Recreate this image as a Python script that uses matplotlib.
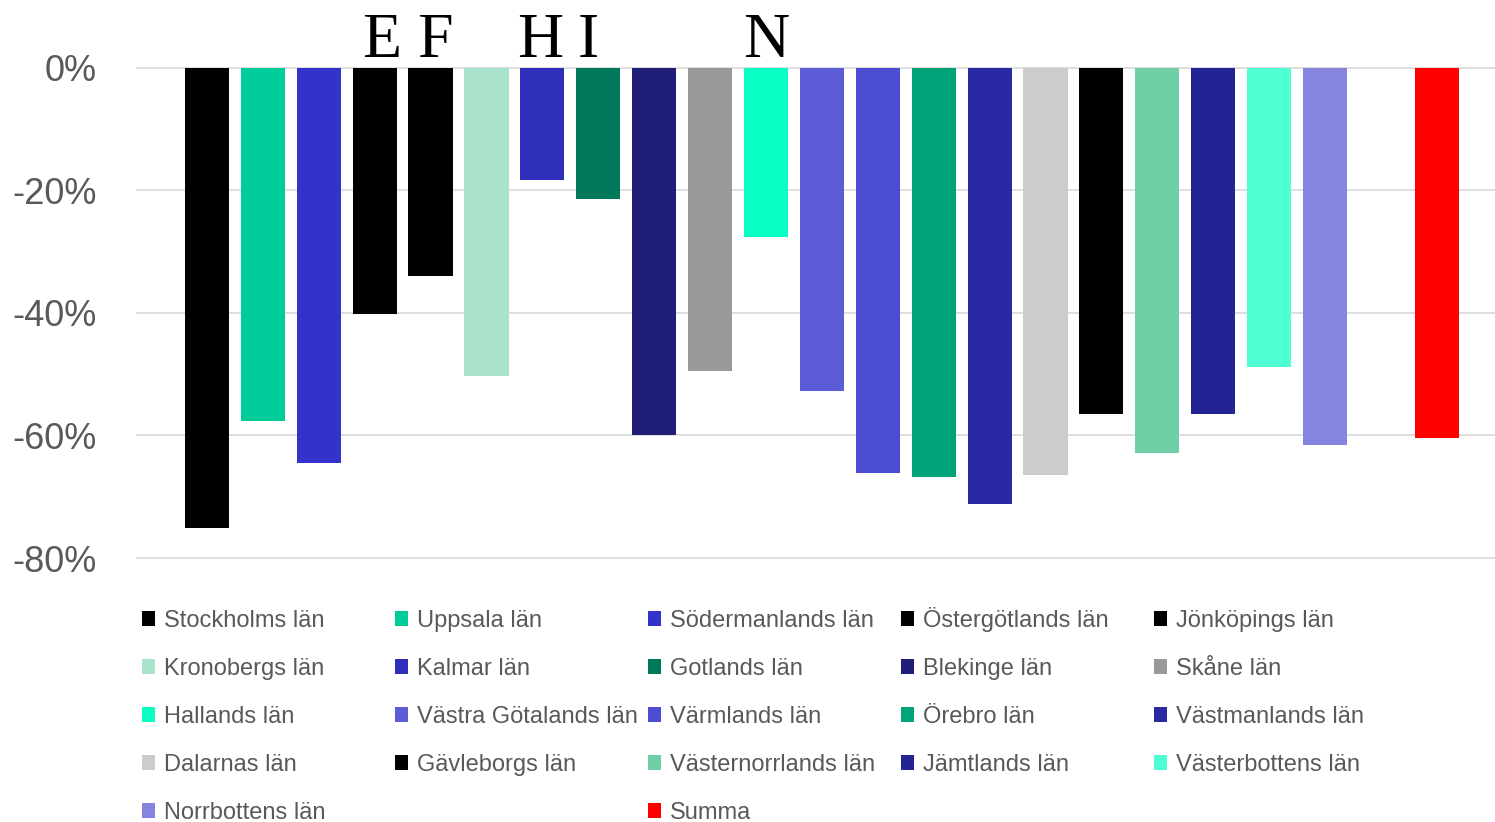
import numpy as np
import matplotlib.pyplot as plt
from matplotlib.patches import Patch
from matplotlib.transforms import ScaledTranslation

# county names, in bar order (one empty slot before "Summa")
counties = ["Stockholms län", "Uppsala län", "Södermanlands län", "Östergötlands län",
            "Jönköpings län", "Kronobergs län", "Kalmar län", "Gotlands län",
            "Blekinge län", "Skåne län", "Hallands län", "Västra Götalands län",
            "Värmlands län", "Örebro län", "Västmanlands län", "Dalarnas län",
            "Gävleborgs län", "Västernorrlands län", "Jämtlands län",
            "Västerbottens län", "Norrbottens län", "", "Summa"]
# change in percent
change = [-75.1, -57.6, -64.5, -40.2, -34.0, -50.3, -18.3, -21.4, -59.9, -49.5,
          -27.6, -52.7, -66.1, -66.8, -71.2, -66.4, -56.5, -62.9, -56.5, -48.8,
          -61.6, np.nan, -60.4]
colors = ["#000000", "#00CC99", "#3333CC", "#000000", "#000000", "#AAE3CB",
          "#2E2EB8", "#00785A", "#1F1F77", "#999999", "#0AFFC4", "#5C5CD6",
          "#4D4DD4", "#00A37A", "#2929A3", "#CCCCCC", "#000000", "#70CFA6",
          "#232394", "#4DFFD2", "#8585E0", "#FFFFFF", "#FF0000"]
yticks = [0, -20, -40, -60, -80]
# letters written above some of the bars: (bar index, small shift, letter)
marks = [(3, 0.12, "E"), (4, 0.07, "F"), (6, -0.03, "H"), (7, -0.17, "I"), (10, 0.0, "N")]

grey = "#595959"
fig = plt.figure(figsize=(14.95, 8.22), dpi=100)
ax = fig.add_axes([137 / 1495, 1 - 558 / 822, 1358 / 1495, 490 / 822])

x = np.arange(len(counties))
vals = np.nan_to_num(np.array(change, dtype=float))
ax.bar(x, vals, width=0.79, color=colors, zorder=3)

ax.set_xlim(-1.25, 23.04)
ax.set_ylim(-80, 0)
ax.set_yticks(yticks)
ax.set_yticklabels([f"{t}%" for t in yticks], family="Liberation Sans", fontsize=26, color=grey)
ax.tick_params(axis="y", length=0, pad=29)
ax.set_xticks([])
for t in yticks:
    ax.axhline(t, color="#D9D9D9", lw=1.2, zorder=1, clip_on=False)
for s in ax.spines.values():
    s.set_visible(False)

lift = ax.transData + ScaledTranslation(0, 11 / 100, fig.dpi_scale_trans)
for i, dx, letter in marks:
    ax.text(i + dx, 0, letter, ha="center", va="baseline", family="Liberation Serif",
            fontsize=46, color="black", clip_on=False, transform=lift)

# legend: 5 fixed-width columns, filled row by row, one entry per box
col_x = [142, 395, 648, 901, 1154]
row_y = 632
row_step = 48
for i, name in enumerate(counties):
    if not name:
        continue
    r, c = divmod(i, 5)
    fig.legend([Patch(facecolor=colors[i], edgecolor="none")], [name],
               loc="lower left",
               bbox_to_anchor=(col_x[c] / 1495, 1 - (row_y + r * row_step) / 822),
               frameon=False, borderpad=0, borderaxespad=0,
               handlelength=0.56, handleheight=0.56, handletextpad=0.36,
               labelcolor=grey, prop={"family": "Liberation Sans", "size": 17})

fig.savefig("out.png", dpi=100)
